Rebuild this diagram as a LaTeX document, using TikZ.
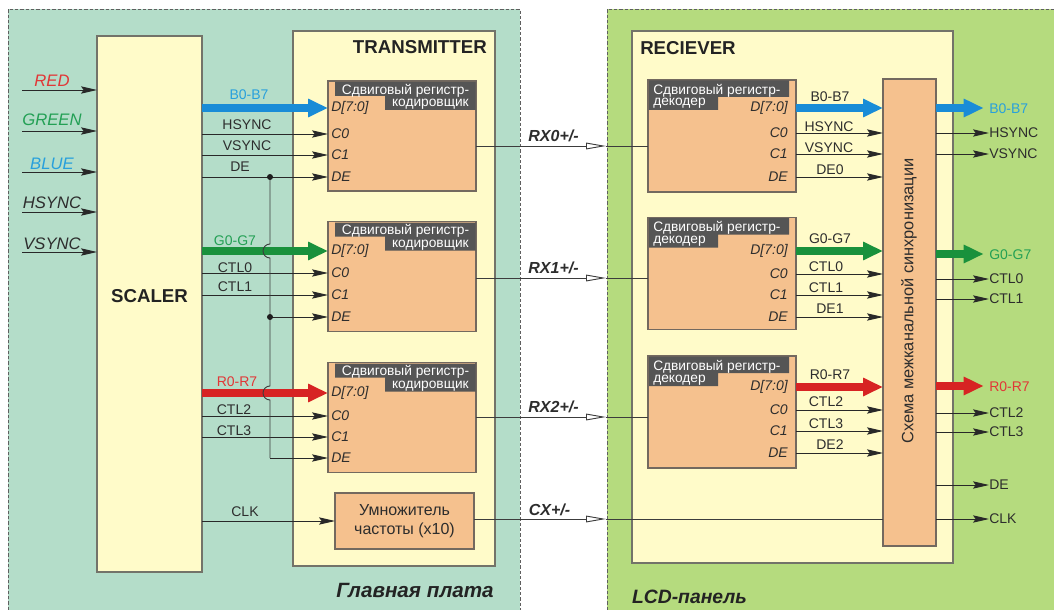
\documentclass[tikz,border=0pt]{standalone}
\usepackage{fontspec}
\setmainfont{Liberation Sans}
\usetikzlibrary{arrows.meta}

\begin{document}
\begin{tikzpicture}[x=0.75pt,y=0.75pt,yscale=-1,
  panel/.style={draw={rgb,255:red,95;green,95;blue,95}, line width=0.6pt, dash pattern={on 2.5pt off 1.5pt}},
  box/.style={draw={rgb,255:red,115;green,115;blue,105}, fill={rgb,255:red,255;green,251;blue,201}, line width=0.8pt, inner sep=0pt, outer sep=0pt},
  blk/.style={draw={rgb,255:red,115;green,105;blue,95}, fill={rgb,255:red,245;green,193;blue,142}, line width=0.8pt, inner sep=0pt, outer sep=0pt},
  hdr/.style={fill={rgb,255:red,85;green,85;blue,85}},
  htxt/.style={text=white, font=\fontsize{10.3}{12}\selectfont, inner sep=0pt},
  pin/.style={text={rgb,255:red,45;green,45;blue,45}, font=\fontsize{10.5}{12}\selectfont\itshape, inner sep=0pt},
  lab/.style={text={rgb,255:red,45;green,45;blue,45}, font=\fontsize{10.5}{12}\selectfont, inner sep=0pt, anchor=base},
  inlab/.style={font=\fontsize{12.5}{14}\selectfont\itshape, inner sep=0pt, anchor=base},
  rxlab/.style={text={rgb,255:red,45;green,45;blue,45}, font=\fontsize{12}{14}\selectfont\bfseries\itshape, inner sep=0pt, anchor=base},
  ttl/.style={text={rgb,255:red,35;green,35;blue,35}, font=\fontsize{14}{16}\selectfont\bfseries, inner sep=0pt},
  sig/.style={draw={rgb,255:red,40;green,40;blue,40}, line width=0.7pt, -{Stealth[length=12pt,width=5.5pt,inset=2pt]}},
  link/.style={draw={rgb,255:red,60;green,60;blue,60}, line width=0.7pt},
  dot/.style={fill={rgb,255:red,30;green,30;blue,30}},
  bus/.style={line width=6pt, -{Triangle[length=15pt,width=13pt]}},
  busB/.style={bus, draw={rgb,255:red,25;green,140;blue,215}},
  busG/.style={bus, draw={rgb,255:red,25;green,145;blue,60}},
  busR/.style={bus, draw={rgb,255:red,215;green,35;blue,35}},
  blueL/.style={text={rgb,255:red,40;green,160;blue,220}},
  greenL/.style={text={rgb,255:red,35;green,160;blue,85}},
  redL/.style={text={rgb,255:red,225;green,55;blue,55}},
  ]
\useasboundingbox (0,0) rectangle (1054,610);

%Shape: Rectangle [main board]
\fill[fill={rgb,255:red,180;green,221;blue,201}] (8,9) rectangle (520,610);
\draw[panel] (8,610) -- (8,9) -- (520,9) -- (520,610);
%Shape: Rectangle [lcd panel]
\fill[fill={rgb,255:red,181;green,219;blue,126}] (607,9) rectangle (1054,610);
\draw[panel] (607,610) -- (607,9) -- (1054,9);

%Shape: Rectangle [scaler]
\node[box, minimum width=78.75pt, minimum height=402pt] (scaler) at (149.5,304) {};
%Shape: Rectangle [transmitter]
\node[box, minimum width=151.5pt, minimum height=401.25pt] (tx) at (394,298.5) {};
%Shape: Rectangle [receiver]
\node[box, minimum width=240.75pt, minimum height=399pt] (rx) at (792.5,297) {};

%Shape: Rectangle [encoders]
\node[blk, minimum width=111pt, minimum height=82.5pt] (enc1) at (402,136) {};
\node[blk, minimum width=111pt, minimum height=82.5pt] (enc2) at (402,276.5) {};
\node[blk, minimum width=111pt, minimum height=82.5pt] (enc3) at (402,417.5) {};
%Shape: Rectangle [multiplier]
\node[blk, minimum width=104.25pt, minimum height=42pt, align=center, font=\fontsize{12}{14.5}\selectfont, text={rgb,255:red,45;green,45;blue,45}] (mul) at (404.5,521) {Умножитель\\частоты (x10)};

%Shape: Rectangle [decoders]
\node[blk, minimum width=111pt, minimum height=84pt] (dec1) at (722,136) {};
\node[blk, minimum width=111pt, minimum height=84pt] (dec2) at (722,273.5) {};
\node[blk, minimum width=111pt, minimum height=84pt] (dec3) at (722,412) {};
%Shape: Rectangle [sync]
\node[blk, minimum width=39.75pt, minimum height=350.25pt] (sync) at (909.5,312.5) {};

%Shape: Header [encoders]
\begin{scope}[shift={(enc1.north east)}]
\fill[hdr] (-141,1) -- (-0.5,1) -- (-0.5,29) -- (-91,29) -- (-91,15) -- (-141,15) -- cycle ;
\node[htxt, anchor=base] (e1t1) at (-70.5,13) {Сдвиговый регистр-};
\node[htxt, anchor=base east] (e1t2) at (-7,25.5) {кодировщик};
\end{scope}
\begin{scope}[shift={(enc2.north east)}]
\fill[hdr] (-141,1) -- (-0.5,1) -- (-0.5,29) -- (-91,29) -- (-91,15) -- (-141,15) -- cycle ;
\node[htxt, anchor=base] (e2t1) at (-70.5,13) {Сдвиговый регистр-};
\node[htxt, anchor=base east] (e2t2) at (-7,25.5) {кодировщик};
\end{scope}
\begin{scope}[shift={(enc3.north east)}]
\fill[hdr] (-141,1) -- (-0.5,1) -- (-0.5,29) -- (-91,29) -- (-91,15) -- (-141,15) -- cycle ;
\node[htxt, anchor=base] (e3t1) at (-70.5,13) {Сдвиговый регистр-};
\node[htxt, anchor=base east] (e3t2) at (-7,25.5) {кодировщик};
\end{scope}

%Shape: Header [decoders]
\begin{scope}[shift={(dec1.north west)}]
\fill[hdr] (1,0.5) -- (141,0.5) -- (141,17) -- (70,17) -- (70,30) -- (1,30) -- cycle ;
\node[htxt, anchor=base west] (d1t1) at (5,14) {Сдвиговый регистр-};
\node[htxt, anchor=base west] (d1t2) at (5,26) {декодер};
\end{scope}
\begin{scope}[shift={(dec2.north west)}]
\fill[hdr] (1,0.5) -- (141,0.5) -- (141,17) -- (70,17) -- (70,30) -- (1,30) -- cycle ;
\node[htxt, anchor=base west] (d2t1) at (5,14) {Сдвиговый регистр-};
\node[htxt, anchor=base west] (d2t2) at (5,26) {декодер};
\end{scope}
\begin{scope}[shift={(dec3.north west)}]
\fill[hdr] (1,0.5) -- (141,0.5) -- (141,17) -- (70,17) -- (70,30) -- (1,30) -- cycle ;
\node[htxt, anchor=base west] (d3t1) at (5,14) {Сдвиговый регистр-};
\node[htxt, anchor=base west] (d3t2) at (5,26) {декодер};
\end{scope}

% Text Node
\node[ttl, anchor=base] (lscaler) at (149.5,302) {SCALER};
\node[ttl, anchor=base east] (ltx) at (487,54) {TRANSMITTER};
\node[ttl, anchor=base west] (lrx) at (640,55) {RECIEVER};
\node[rotate=90, font=\fontsize{12.3}{14}\selectfont, text={rgb,255:red,45;green,45;blue,45}] (lsync) at (909,301) {Схема межканальной синхронизации};
\node[font=\fontsize{15.5}{17}\selectfont\bfseries\itshape, text={rgb,255:red,35;green,35;blue,35}, anchor=base] (lmain) at (415,597) {Главная плата};
\node[font=\fontsize{14.5}{16}\selectfont\bfseries\itshape, text={rgb,255:red,35;green,35;blue,35}, anchor=base] (llcd) at (689.5,603) {LCD-панель};

% Text Node [encoder pins]
\node[pin, anchor=west] (e1d) at (331,108) {D[7:0]};
\node[pin, anchor=west] (e1c0) at (331,134) {C0};
\node[pin, anchor=west] (e1c1) at (331,155) {C1};
\node[pin, anchor=west] (e1de) at (331,177) {DE};
\node[pin, anchor=west] (e2d) at (331,251) {D[7:0]};
\node[pin, anchor=west] (e2c0) at (331,273) {C0};
\node[pin, anchor=west] (e2c1) at (331,295) {C1};
\node[pin, anchor=west] (e2de) at (331,317) {DE};
\node[pin, anchor=west] (e3d) at (331,393) {D[7:0]};
\node[pin, anchor=west] (e3c0) at (331,416) {C0};
\node[pin, anchor=west] (e3c1) at (331,437) {C1};
\node[pin, anchor=west] (e3de) at (331,458) {DE};

% Text Node [decoder pins]
\node[pin, anchor=east] (d1d) at (788,108) {D[7:0]};
\node[pin, anchor=east] (d1c0) at (788,133) {C0};
\node[pin, anchor=east] (d1c1) at (788,154) {C1};
\node[pin, anchor=east] (d1de) at (788,177) {DE};
\node[pin, anchor=east] (d2d) at (788,251) {D[7:0]};
\node[pin, anchor=east] (d2c0) at (788,274) {C0};
\node[pin, anchor=east] (d2c1) at (788,295) {C1};
\node[pin, anchor=east] (d2de) at (788,317) {DE};
\node[pin, anchor=east] (d3d) at (788,387) {D[7:0]};
\node[pin, anchor=east] (d3c0) at (788,410) {C0};
\node[pin, anchor=east] (d3c1) at (788,431) {C1};
\node[pin, anchor=east] (d3de) at (788,453) {DE};

%Straight Lines [scaler inputs]
\coordinate (iR) at (22,90);
\coordinate (iG) at (22,131);
\coordinate (iB) at (22,172);
\coordinate (iH) at (22,212);
\coordinate (iV) at (22,252);
\draw[sig] (iR) -- (scaler.west |- iR);
\draw[sig] (iG) -- (scaler.west |- iG);
\draw[sig] (iB) -- (scaler.west |- iB);
\draw[sig] (iH) -- (scaler.west |- iH);
\draw[sig] (iV) -- (scaler.west |- iV);
\node[inlab, redL] (lR) at (52,87) {RED};
\node[inlab, greenL] (lG) at (52,126) {GREEN};
\node[inlab, blueL] (lB) at (52,169) {BLUE};
\node[inlab, text={rgb,255:red,45;green,45;blue,45}] (lH) at (52,209) {HSYNC};
\node[inlab, text={rgb,255:red,45;green,45;blue,45}] (lV) at (52,249) {VSYNC};

%Straight Lines [scaler to encoders]
\draw[busB] (scaler.east |- e1d) -- (enc1.west |- e1d);
\draw[sig] (scaler.east |- e1c0) -- (enc1.west |- e1c0);
\draw[sig] (scaler.east |- e1c1) -- (enc1.west |- e1c1);
\draw[sig] (scaler.east |- e1de) -- (enc1.west |- e1de);
\draw[busG] (scaler.east |- e2d) -- (enc2.west |- e2d);
\draw[sig] (scaler.east |- e2c0) -- (enc2.west |- e2c0);
\draw[sig] (scaler.east |- e2c1) -- (enc2.west |- e2c1);
\draw[busR] (scaler.east |- e3d) -- (enc3.west |- e3d);
\draw[sig] (scaler.east |- e3c0) -- (enc3.west |- e3c0);
\draw[sig] (scaler.east |- e3c1) -- (enc3.west |- e3c1);
\draw[sig] (scaler.east |- mul) -- (mul.west);

%Straight Lines [DE branch]
\coordinate (j1) at (270,177);
\coordinate (j2) at (270,317);
\coordinate (j3) at (270,458);
\draw[link] (j1) -- (270,244) arc[start angle=270, end angle=90, radius=7] -- (270,386) arc[start angle=270, end angle=90, radius=7] -- (j3);
\draw[sig] (j2) -- (enc2.west |- j2);
\draw[sig] (j3) -- (enc3.west |- j3);
\fill[dot] (j1) circle[radius=3];
\fill[dot] (j2) circle[radius=3];

% Text Node [transmitter signals]
\node[lab, blueL] (tB) at (249,100) {B0-B7};
\node[lab] (tHS) at (247,130) {HSYNC};
\node[lab] (tVS) at (247,150.7) {VSYNC};
\node[lab] (tDE) at (240,171.7) {DE};
\node[lab, greenL] (tG) at (235,245) {G0-G7};
\node[lab] (tC0) at (235,272.7) {CTL0};
\node[lab] (tC1) at (235,291.7) {CTL1};
\node[lab, redL] (tR) at (237,386.7) {R0-R7};
\node[lab] (tC2) at (234,414) {CTL2};
\node[lab] (tC3) at (234,435) {CTL3};
\node[lab] (tCLK) at (245,516.7) {CLK};

%Straight Lines [links]
\coordinate (l0) at (606,146);
\coordinate (l1) at (606,278);
\coordinate (l2) at (606,417);
\coordinate (l3) at (606,519);
\draw[link, -{Triangle[open, length=15pt, width=5pt]}] (enc1.east |- l0) -- (l0);
\draw[link, -{Triangle[open, length=15pt, width=5pt]}] (enc2.east |- l1) -- (l1);
\draw[link, -{Triangle[open, length=15pt, width=5pt]}] (enc3.east |- l2) -- (l2);
\draw[link, -{Triangle[open, length=15pt, width=5pt]}] (mul.east |- l3) -- (l3);
\draw[link] (l0) -- (dec1.west |- l0);
\draw[link] (l1) -- (dec2.west |- l1);
\draw[link] (l2) -- (dec3.west |- l2);
\draw[link] (l3) -- (sync.west |- l3);
\node[rxlab] (rx0) at (553.5,141.7) {RX0+/-};
\node[rxlab] (rx1) at (553.5,273) {RX1+/-};
\node[rxlab] (rx2) at (553.5,412.5) {RX2+/-};
\node[rxlab] (cx) at (549.5,515) {CX+/-};

%Straight Lines [decoders to sync]
\draw[busB] (dec1.east |- d1d) -- (sync.west |- d1d);
\draw[sig] (dec1.east |- d1c0) -- (sync.west |- d1c0);
\draw[sig] (dec1.east |- d1c1) -- (sync.west |- d1c1);
\draw[sig] (dec1.east |- d1de) -- (sync.west |- d1de);
\draw[busG] (dec2.east |- d2d) -- (sync.west |- d2d);
\draw[sig] (dec2.east |- d2c0) -- (sync.west |- d2c0);
\draw[sig] (dec2.east |- d2c1) -- (sync.west |- d2c1);
\draw[sig] (dec2.east |- d2de) -- (sync.west |- d2de);
\draw[busR] (dec3.east |- d3d) -- (sync.west |- d3d);
\draw[sig] (dec3.east |- d3c0) -- (sync.west |- d3c0);
\draw[sig] (dec3.east |- d3c1) -- (sync.west |- d3c1);
\draw[sig] (dec3.east |- d3de) -- (sync.west |- d3de);

% Text Node [receiver signals]
\node[lab] (rB) at (830,101.7) {B0-B7};
\node[lab] (rHS) at (829,131.7) {HSYNC};
\node[lab] (rVS) at (829,152.7) {VSYNC};
\node[lab] (rDE0) at (830,174) {DE0};
\node[lab] (rG) at (830,243) {G0-G7};
\node[lab] (rC0) at (826,271.7) {CTL0};
\node[lab] (rC1) at (826,292.7) {CTL1};
\node[lab] (rDE1) at (830,313) {DE1};
\node[lab] (rR) at (830,379) {R0-R7};
\node[lab] (rC2) at (826,406.7) {CTL2};
\node[lab] (rC3) at (826,428) {CTL3};
\node[lab] (rDE2) at (830,449) {DE2};

% Text Node [outputs]
\node[lab, anchor=west, blueL] (oB) at (989,109) {B0-B7};
\node[lab, anchor=west] (oHS) at (989,133) {HSYNC};
\node[lab, anchor=west] (oVS) at (989,154) {VSYNC};
\node[lab, anchor=west, greenL] (oG) at (989,255) {G0-G7};
\node[lab, anchor=west] (oC0) at (989,279) {CTL0};
\node[lab, anchor=west] (oC1) at (989,299) {CTL1};
\node[lab, anchor=west, redL] (oR) at (989,387) {R0-R7};
\node[lab, anchor=west] (oC2) at (989,413) {CTL2};
\node[lab, anchor=west] (oC3) at (989,432) {CTL3};
\node[lab, anchor=west] (oDE) at (989,485) {DE};
\node[lab, anchor=west] (oCLK) at (989,519) {CLK};

%Straight Lines [sync outputs]
\draw[busB] (sync.east |- 0,108) -- ([xshift=-4pt]oB.west |- 0,108);
\draw[sig] (sync.east |- oHS) -- (oHS.west);
\draw[sig] (sync.east |- oVS) -- (oVS.west);
\draw[busG] (sync.east |- 0,254) -- ([xshift=-4pt]oG.west |- 0,254);
\draw[sig] (sync.east |- oC0) -- (oC0.west);
\draw[sig] (sync.east |- oC1) -- (oC1.west);
\draw[busR] (sync.east |- 0,386) -- ([xshift=-4pt]oR.west |- 0,386);
\draw[sig] (sync.east |- oC2) -- (oC2.west);
\draw[sig] (sync.east |- oC3) -- (oC3.west);
\draw[sig] (sync.east |- oDE) -- (oDE.west);
\draw[sig] (sync.east |- oCLK) -- (oCLK.west);

\end{tikzpicture}
\end{document}
